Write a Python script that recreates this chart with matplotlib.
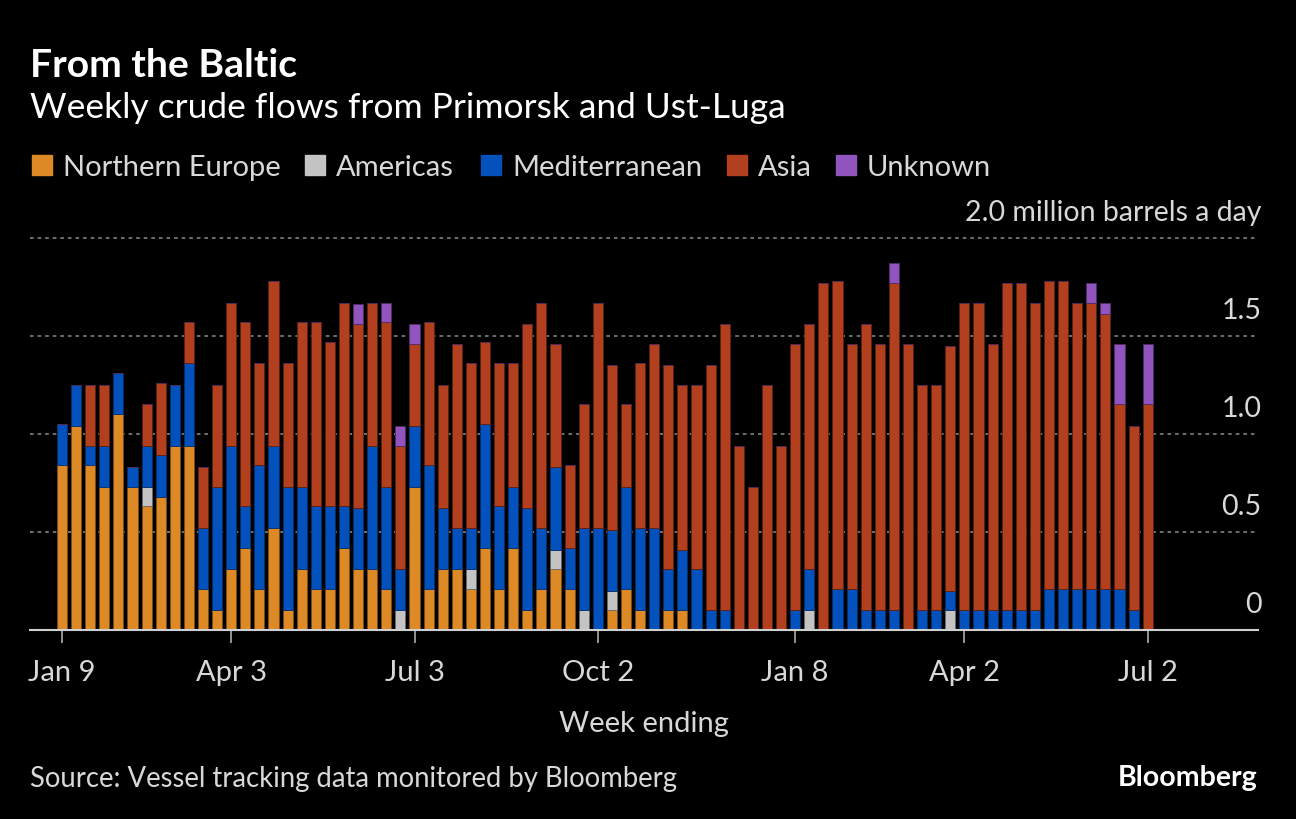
import matplotlib
matplotlib.use("Agg")
import matplotlib.pyplot as plt
from matplotlib.patches import Rectangle
from matplotlib.transforms import blended_transform_factory
import numpy as np

plt.rcParams['font.family'] = ['Lato', 'DejaVu Sans']

# weekly flows, million barrels a day, week ending Jan 9 2022 .. Jul 2 2023
northern_europe = [0.84, 1.04, 0.84, 0.73, 1.10, 0.73, 0.63, 0.68, 0.94, 0.94,
                   0.21, 0.10, 0.31, 0.42, 0.21, 0.52, 0.10, 0.31, 0.21, 0.21,
                   0.42, 0.31, 0.31, 0.21, 0.00, 0.73, 0.21, 0.31, 0.31, 0.21,
                   0.42, 0.21, 0.42, 0.10, 0.21, 0.31, 0.21, 0.00, 0.00, 0.10,
                   0.21, 0.10, 0.00, 0.10, 0.10, 0.00, 0.00, 0.00, 0.00, 0.00,
                   0.00, 0.00, 0.00, 0.00, 0.00, 0.00, 0.00, 0.00, 0.00, 0.00,
                   0.00, 0.00, 0.00, 0.00, 0.00, 0.00, 0.00, 0.00, 0.00, 0.00,
                   0.00, 0.00, 0.00, 0.00, 0.00, 0.00, 0.00, 0.00]
americas = [0.00, 0.00, 0.00, 0.00, 0.00, 0.00, 0.10, 0.00, 0.00, 0.00,
            0.00, 0.00, 0.00, 0.00, 0.00, 0.00, 0.00, 0.00, 0.00, 0.00,
            0.00, 0.00, 0.00, 0.00, 0.10, 0.00, 0.00, 0.00, 0.00, 0.10,
            0.00, 0.00, 0.00, 0.00, 0.00, 0.10, 0.00, 0.10, 0.00, 0.10,
            0.00, 0.00, 0.00, 0.00, 0.00, 0.00, 0.00, 0.00, 0.00, 0.00,
            0.00, 0.00, 0.00, 0.10, 0.00, 0.00, 0.00, 0.00, 0.00, 0.00,
            0.00, 0.00, 0.00, 0.10, 0.00, 0.00, 0.00, 0.00, 0.00, 0.00,
            0.00, 0.00, 0.00, 0.00, 0.00, 0.00, 0.00, 0.00]
mediterranean = [0.21, 0.21, 0.10, 0.21, 0.21, 0.10, 0.21, 0.21, 0.31, 0.42,
                 0.31, 0.63, 0.63, 0.21, 0.63, 0.42, 0.63, 0.42, 0.42, 0.42,
                 0.21, 0.31, 0.63, 0.52, 0.21, 0.31, 0.63, 0.31, 0.21, 0.21,
                 0.63, 0.42, 0.31, 0.52, 0.31, 0.42, 0.21, 0.42, 0.52, 0.31,
                 0.52, 0.42, 0.52, 0.21, 0.31, 0.31, 0.10, 0.10, 0.00, 0.00,
                 0.00, 0.00, 0.10, 0.21, 0.00, 0.21, 0.21, 0.10, 0.10, 0.10,
                 0.00, 0.10, 0.10, 0.10, 0.10, 0.10, 0.10, 0.10, 0.10, 0.10,
                 0.21, 0.21, 0.21, 0.21, 0.21, 0.21, 0.10, 0.00]
asia = [0.00, 0.00, 0.31, 0.31, 0.00, 0.00, 0.21, 0.37, 0.00, 0.21,
        0.31, 0.52, 0.73, 0.94, 0.52, 0.84, 0.63, 0.84, 0.94, 0.84,
        1.04, 0.94, 0.73, 0.84, 0.63, 0.42, 0.73, 0.63, 0.94, 0.84,
        0.42, 0.73, 0.63, 0.94, 1.15, 0.63, 0.42, 0.63, 1.15, 0.84,
        0.42, 0.84, 0.94, 1.04, 0.84, 0.94, 1.25, 1.46, 0.94, 0.73,
        1.25, 0.94, 1.36, 1.25, 1.77, 1.57, 1.25, 1.46, 1.36, 1.67,
        1.46, 1.15, 1.15, 1.25, 1.57, 1.57, 1.36, 1.67, 1.67, 1.57,
        1.57, 1.57, 1.46, 1.46, 1.40, 0.94, 0.94, 1.15]
unknown = [0.00, 0.00, 0.00, 0.00, 0.00, 0.00, 0.00, 0.00, 0.00, 0.00,
           0.00, 0.00, 0.00, 0.00, 0.00, 0.00, 0.00, 0.00, 0.00, 0.00,
           0.00, 0.10, 0.00, 0.10, 0.10, 0.10, 0.00, 0.00, 0.00, 0.00,
           0.00, 0.00, 0.00, 0.00, 0.00, 0.00, 0.00, 0.00, 0.00, 0.00,
           0.00, 0.00, 0.00, 0.00, 0.00, 0.00, 0.00, 0.00, 0.00, 0.00,
           0.00, 0.00, 0.00, 0.00, 0.00, 0.00, 0.00, 0.00, 0.00, 0.10,
           0.00, 0.00, 0.00, 0.00, 0.00, 0.00, 0.00, 0.00, 0.00, 0.00,
           0.00, 0.00, 0.00, 0.10, 0.06, 0.31, 0.00, 0.31]

series_names = ['Northern Europe', 'Americas', 'Mediterranean', 'Asia', 'Unknown']
series_colors = ['#DD8A26', '#C4C4C4', '#0351BC', '#B23F1D', '#9153BD']
series_edges = ['#7a4a12', '#6a6a6a', '#02306e', '#5e200e', '#4e2c66']

tick_pos = [0, 12, 25, 38, 52, 64, 77]
tick_labels = ['Jan 9', 'Apr 3', 'Jul 3', 'Oct 2', 'Jan 8', 'Apr 2', 'Jul 2']
y_ticks = [0, 0.5, 1.0, 1.5, 2.0]
y_labels = ['0', '0.5', '1.0', '1.5', '2.0 million barrels a day']

W, H = 1296, 820
fig = plt.figure(figsize=(W / 100, H / 100), dpi=100, facecolor='black')
ax = fig.add_axes([30 / W, 1 - 631 / H, 1228 / W, (631 - 229) / H])
ax.set_facecolor('black')

x = np.arange(len(asia))
bottom = np.zeros(len(x))
all_series = [northern_europe, americas, mediterranean, asia, unknown]
for vals, col, ec in zip(all_series, series_colors, series_edges):
    vals = np.array(vals)
    ax.bar(x, vals, bottom=bottom, width=0.71, color=col,
           edgecolor=ec, linewidth=0.6, zorder=3)
    bottom += vals

ax.set_xlim(-(62 - 30) / 14.1, (1258 - 62) / 14.1)
ax.set_ylim(0, 2.05)

for s in ['top', 'right', 'left']:
    ax.spines[s].set_visible(False)
ax.spines['bottom'].set_color('#d0d0d0')
ax.spines['bottom'].set_linewidth(1.5)
ax.spines['bottom'].set_zorder(4)

for v in y_ticks[1:]:
    ax.axhline(v, color='#777777', linewidth=1.3, linestyle=(0, (2, 2.2)), zorder=1)

ax.set_yticks([])
ax.set_xticks(tick_pos)
ax.set_xticklabels(tick_labels, fontsize=21, color='#d8d8d8')
ax.tick_params(axis='x', length=9, width=1.2, color='#aaaaaa', pad=12)

trans = blended_transform_factory(ax.transAxes, ax.transData)
for v, lab in zip(y_ticks, y_labels):
    ax.annotate(lab, xy=(1.003, v), xycoords=trans, xytext=(0, 13),
                textcoords='offset points', ha='right', va='baseline',
                fontsize=20.5, color='#d8d8d8')

ax.set_xlabel('Week ending', fontsize=21, color='#d8d8d8', labelpad=18)

# header
fig.text(30 / W, 1 - 77 / H, 'From the Baltic', fontsize=28.2, fontweight='bold',
         color='white', va='baseline', ha='left')
fig.text(30 / W, 1 - 118 / H, 'Weekly crude flows from Primorsk and Ust-Luga',
         fontsize=25.5, color='white', va='baseline', ha='left')

# legend
leg_x = [32, 305, 481, 727, 836]
for lx, name, col in zip(leg_x, series_names, series_colors):
    fig.add_artist(Rectangle((lx / W, 1 - 176 / H), 20 / W, 20 / H,
                             transform=fig.transFigure, color=col))
    fig.text((lx + 31) / W, 1 - 176 / H, name, fontsize=21, color='#d8d8d8',
             va='baseline', ha='left')

# footer
fig.text(30 / W, 1 - 787 / H, 'Source: Vessel tracking data monitored by Bloomberg',
         fontsize=19.8, color='#d8d8d8', va='baseline', ha='left')
fig.text(1258 / W, 1 - 786 / H, 'Bloomberg', fontsize=20.5, fontweight='bold',
         color='white', va='baseline', ha='right')

fig.savefig('out.png', dpi=100, facecolor='black')
